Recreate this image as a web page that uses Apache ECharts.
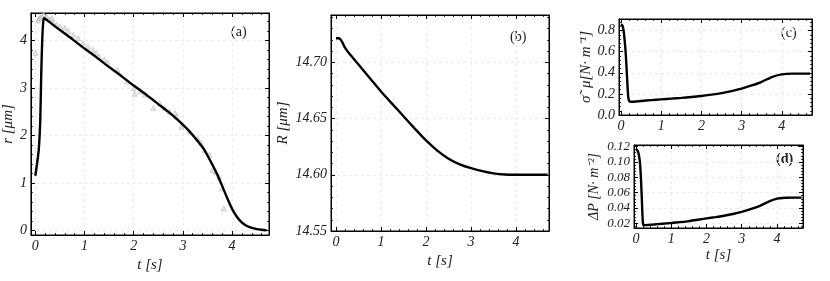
<!DOCTYPE html>
<html><head><meta charset="utf-8">
<script src="https://cdn.jsdelivr.net/npm/echarts@6/dist/echarts.min.js"></script>
<style>html,body{margin:0;padding:0;background:#fff}#c{width:830px;height:281px}</style>
</head><body><div id="c"></div>
<script>
// (a) fitted radius r(t) and experimental points
const tFitA = [0, 0.035, 0.07, 0.1, 0.12, 0.14, 0.16, 0.18, 0.25, 0.5, 0.75, 1.0, 1.25, 1.5, 1.75, 2.0, 2.25, 2.5, 2.7, 2.9, 3.1, 3.3, 3.45, 3.6, 3.7, 3.8, 3.9, 4.0, 4.1, 4.2, 4.3, 4.4, 4.5, 4.6, 4.7];
const rFitA = [1.15, 1.4, 1.7, 2.3, 3.3, 4.0, 4.38, 4.47, 4.42, 4.22, 4.03, 3.83, 3.64, 3.44, 3.25, 3.05, 2.86, 2.66, 2.5, 2.32, 2.12, 1.88, 1.67, 1.38, 1.17, 0.93, 0.68, 0.45, 0.28, 0.16, 0.09, 0.05, 0.025, 0.01, 0.0];
const tObsA = [0.0, 0.06, 0.08, 0.1, 0.13, 0.17, 0.23, 0.3, 0.34, 0.37, 0.43, 0.5, 0.6, 0.67, 0.77, 0.87, 0.97, 1.07, 1.17, 1.24, 1.3, 1.4, 1.47, 1.67, 1.87, 2.0, 2.02, 2.13, 2.23, 2.4, 2.53, 2.63, 2.73, 2.84, 2.87, 2.97, 3.14, 3.3, 3.37, 3.44, 3.54, 3.6, 3.67, 3.74, 3.8, 3.83];
const rObsA = [3.74, 4.42, 4.47, 4.48, 4.52, 4.55, 4.51, 4.44, 4.47, 4.37, 4.33, 4.30, 4.27, 4.20, 4.12, 4.05, 3.95, 3.87, 3.80, 3.74, 3.66, 3.60, 3.54, 3.38, 3.14, 3.0, 2.88, 2.93, 2.86, 2.58, 2.68, 2.58, 2.5, 2.47, 2.4, 2.18, 2.08, 1.94, 1.84, 1.69, 1.59, 1.27, 1.23, 1.13, 0.88, 0.46];
// (b) R(t)
const tB = [0, 0.05, 0.1, 0.15, 0.2, 0.3, 0.5, 0.75, 1.0, 1.25, 1.5, 1.75, 2.0, 2.25, 2.5, 2.75, 3.0, 3.25, 3.5, 3.75, 4.0, 4.7];
const RB = [14.7214, 14.7214, 14.7205, 14.717, 14.713, 14.7075, 14.698, 14.686, 14.674, 14.663, 14.652, 14.641, 14.6305, 14.6215, 14.6143, 14.6093, 14.6058, 14.6032, 14.6012, 14.6002, 14.6, 14.6];
// (c) sigma mu
const tC = [0, 0.03, 0.06, 0.09, 0.12, 0.15, 0.18, 0.21, 0.25, 0.5, 0.75, 1.0, 1.25, 1.5, 1.75, 2.0, 2.25, 2.5, 2.75, 3.0, 3.25, 3.5, 3.75, 4.0, 4.25, 4.5, 4.7];
const sC = [0.86, 0.85, 0.81, 0.71, 0.57, 0.36, 0.17, 0.128, 0.125, 0.133, 0.141, 0.148, 0.155, 0.162, 0.171, 0.18, 0.193, 0.208, 0.227, 0.25, 0.28, 0.315, 0.36, 0.385, 0.392, 0.392, 0.392];
// (d) Delta P
const tD = [0, 0.05, 0.1, 0.13, 0.16, 0.19, 0.22, 0.3, 0.5, 0.75, 1.0, 1.25, 1.5, 1.75, 2.0, 2.25, 2.5, 2.75, 3.0, 3.25, 3.5, 3.75, 4.0, 4.25, 4.5, 4.7];
const pD = [0.117, 0.114, 0.103, 0.085, 0.055, 0.022, 0.0175, 0.0178, 0.0185, 0.0195, 0.0205, 0.0217, 0.023, 0.0247, 0.0265, 0.0282, 0.030, 0.0322, 0.035, 0.0385, 0.0425, 0.048, 0.0522, 0.0533, 0.0535, 0.0535];

const zip = (a, b) => a.map((v, i) => [v, b[i]]);
const serif = 'Liberation Serif';
const lbl = (fmt, size) => ({ fontFamily: serif, fontStyle: 'italic', fontSize: size, color: '#222', formatter: fmt, margin: 4 });

const grids = [
  { left: 27, top: 13, width: 242, height: 222 },
  { left: 331, top: 15, width: 218, height: 216 },
  { left: 619, top: 19, width: 193, height: 96 },
  { left: 634, top: 145, width: 169, height: 83 }
].map(g => Object.assign({ show: true, borderColor: '#000', borderWidth: 1, containLabel: false }, g));

const tick = { show: true, inside: true, length: 4, lineStyle: { color: '#000', width: 1 } };
const minor = { show: true, splitNumber: 5, length: 2, lineStyle: { color: '#000', width: 0.8 } };
const split = { show: true, lineStyle: { type: [3, 3], color: '#ebebeb', width: 1 } };

function xPair(gi, min, max, opts) {
  const main = Object.assign({
    type: 'value', gridIndex: gi, position: 'bottom', min, max, splitNumber: 5,
    axisLine: { show: true, onZero: false, lineStyle: { color: '#000' } },
    axisTick: tick, minorTick: minor, splitLine: split,
    axisLabel: Object.assign(lbl(v => Math.round(v).toString(), 14), { showMinLabel: false, showMaxLabel: false })
  }, opts || {});
  const top = {
    type: 'value', gridIndex: gi, position: 'top', min, max, splitNumber: 5,
    axisLine: { show: true, onZero: false, lineStyle: { color: '#000' } },
    axisTick: tick, minorTick: minor, splitLine: { show: false }, axisLabel: { show: false }
  };
  return [main, top];
}
function yPair(gi, min, max, fmt, opts, size, showMin) {
  const base = {
    type: 'value', gridIndex: gi, min, max,
    axisLine: { show: true, onZero: false, lineStyle: { color: '#000' } },
    axisTick: tick, minorTick: minor
  };
  Object.assign(base, opts || {});
  const main = Object.assign({}, base, {
    position: 'left', splitLine: split,
    axisLabel: Object.assign(lbl(fmt, size), { showMinLabel: !!showMin, showMaxLabel: false })
  });
  const right = Object.assign({}, base, { position: 'right', splitLine: { show: false }, axisLabel: { show: false }, name: '' });
  return [main, right];
}

const xName = (gap) => ({ name: 't [s]', nameLocation: 'middle', nameGap: gap,
  nameTextStyle: { fontFamily: serif, fontStyle: 'italic', fontSize: 15, color: '#222' } });
const yName = (n, gap, size) => ({ name: n, nameLocation: 'middle', nameGap: gap, nameRotate: 90,
  nameTextStyle: { fontFamily: serif, fontStyle: 'italic', fontSize: size || 15, color: '#222' } });

const xAxis = [].concat(
  xPair(0, -0.09, 4.75, xName(21)),
  xPair(1, -0.11, 4.73, xName(21)),
  xPair(2, -0.05, 4.75),
  xPair(3, -0.06, 4.74, xName(20))
);
const yAxis = [].concat(
  yPair(0, -0.1, 4.58, v => Math.round(v).toString(), Object.assign({ splitNumber: 5 }, yName('r [μm]', 12)), 14, false),
  yPair(1, 14.55, 14.742, v => v.toFixed(2), Object.assign({ interval: 0.05 }, yName('R [μm]', 40)), 14, true),
  yPair(2, 0, 0.91, v => v.toFixed(1), Object.assign({ interval: 0.2 }, yName('σ\u0303  μ[N· m⁻¹]', 21, 15)), 14, true),
  yPair(3, 0.014, 0.122, v => v.toFixed(2), Object.assign({ splitNumber: 5 }, yName('ΔP [N· m⁻²]', 33, 14)), 13, false)
);

const lineS = (xi, yi, data) => ({
  type: 'line', xAxisIndex: xi, yAxisIndex: yi, data, showSymbol: false, symbol: 'none',
  smooth: 0.2, lineStyle: { color: '#000', width: 2.4 }, z: 3, silent: true
});

const series = [
  { type: 'scatter', xAxisIndex: 0, yAxisIndex: 0, data: zip(tObsA, rObsA), symbol: 'triangle', symbolSize: 5,
    itemStyle: { color: 'rgba(220,220,220,0.9)', borderColor: '#aaaaaa', borderWidth: 0.6 }, z: 2, silent: true },
  lineS(0, 0, zip(tFitA, rFitA)),
  lineS(2, 2, zip(tB, RB)),
  lineS(4, 4, zip(tC, sC)),
  lineS(6, 6, zip(tD, pD))
];

const panelText = (t, x, y, bold) => ({ type: 'text', left: x, top: y, style: { text: t, font: (bold ? 'bold ' : '') + '14px "Liberation Serif"', fill: '#222' } });

const chart = echarts.init(document.getElementById('c'), null, { renderer: 'canvas' });
chart.setOption({
  animation: false,
  grid: grids,
  xAxis: xAxis,
  yAxis: yAxis,
  series,
  graphic: [
    panelText('(a)', 231, 25), panelText('(b)', 510, 30), panelText('(c)', 781, 26), panelText('(d)', 776, 152, true)
  ]
});
</script></body></html>
